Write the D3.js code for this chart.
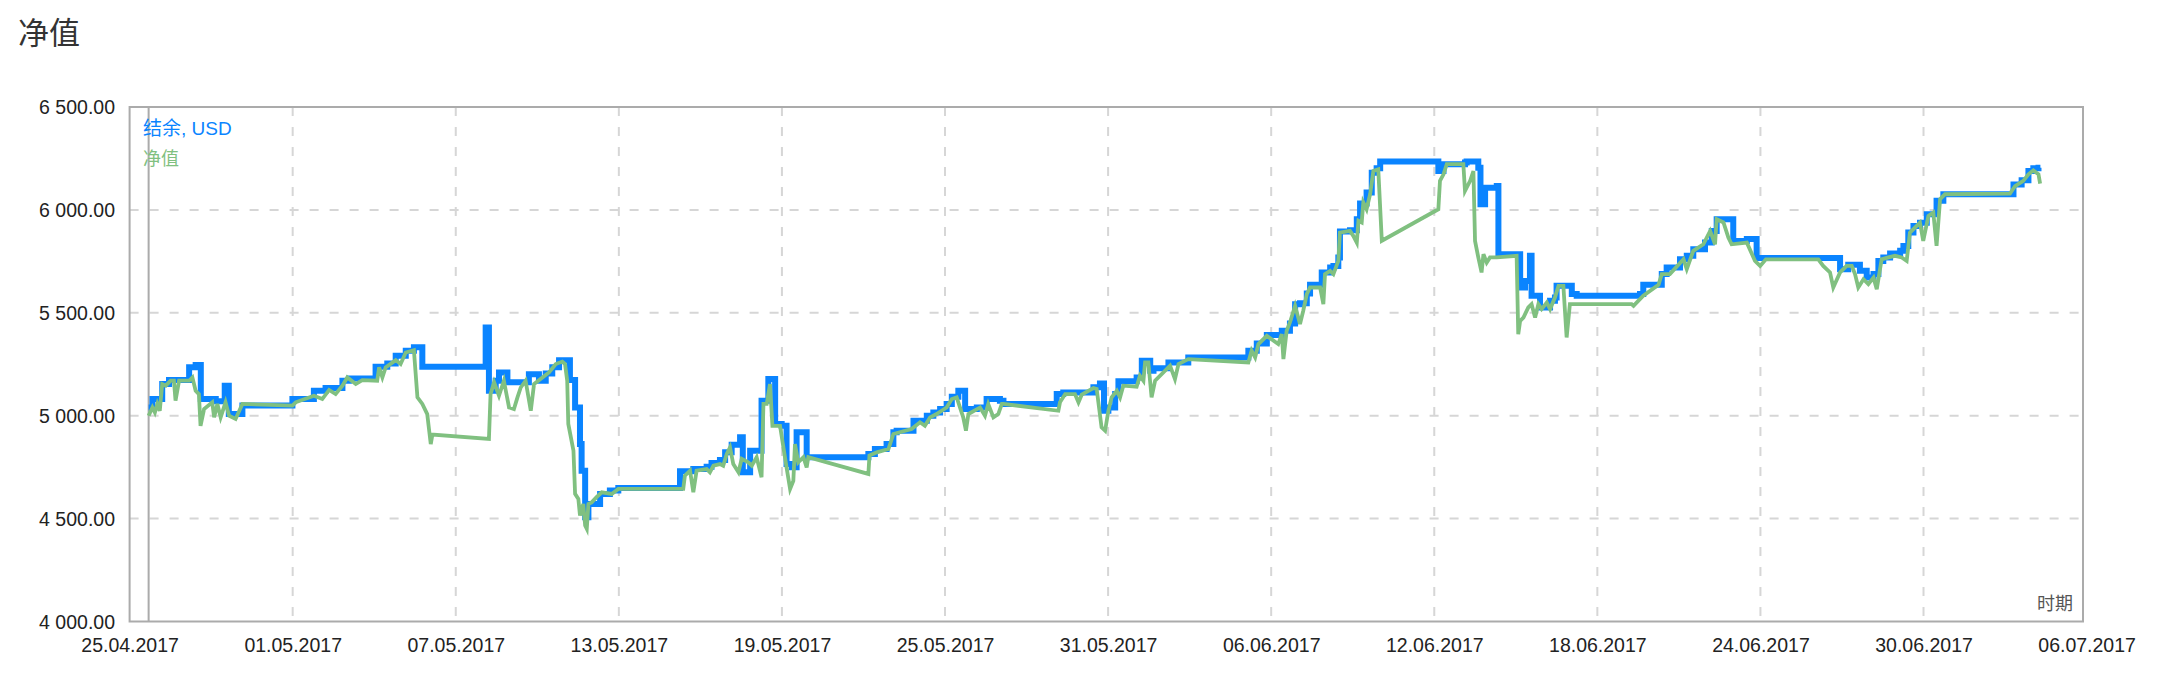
<!DOCTYPE html>
<html>
<head>
<meta charset="utf-8">
<script src="https://cdn.jsdelivr.net/npm/d3@7"></script>
<style>
html,body{margin:0;padding:0;background:#fff;}
svg{display:block;}
</style>
</head>
<body>
<svg id="chart" width="2159" height="687"></svg>
<script>
// ---- data (time = days elapsed since 25.04.2017 00:00) ----
const titleText = "净值";
const seriesNames = ["结余, USD", "净值"];
const axisNameX = "时期";
const xTickLabels = ["25.04.2017","01.05.2017","07.05.2017","13.05.2017","19.05.2017","25.05.2017","31.05.2017","06.06.2017","12.06.2017","18.06.2017","24.06.2017","30.06.2017","06.07.2017"];
const yTickValues = [4000, 4500, 5000, 5500, 6000, 6500];

const balanceDays = [0.70,0.84,1.20,1.45,2.19,2.43,2.62,3.17,3.50,3.65,
4.15,5.99,6.78,7.21,7.83,8.07,9.05,9.48,9.79,10.16,
10.46,10.77,13.10,13.22,13.47,13.59,13.90,14.69,15.06,15.31,
15.55,15.80,16.20,16.39,16.57,16.63,16.76,16.88,17.31,17.67,
17.98,20.25,20.74,21.23,21.41,21.72,21.91,22.15,22.46,22.56,
22.83,23.25,23.50,23.75,23.99,24.17,24.36,24.54,24.91,27.18,
27.42,27.85,28.10,28.22,28.84,29.33,29.57,29.82,30.06,30.25,
30.49,30.74,31.17,31.53,32.02,32.15,34.11,34.35,35.46,35.70,
35.85,36.01,36.26,36.38,37.05,37.24,37.55,37.67,38.22,38.95,
41.16,41.47,41.84,42.39,42.69,42.88,43.06,43.31,43.43,43.86,
44.17,44.29,44.47,44.53,44.90,45.15,45.27,45.51,45.70,45.88,
46.01,48.09,48.15,48.34,49.13,49.19,49.62,49.70,49.87,50.30,
50.36,51.16,51.34,51.52,51.58,51.89,52.26,52.44,52.50,53.06,
53.24,55.57,55.69,56.37,56.55,57.04,57.29,57.53,57.96,58.21,
58.39,59.00,59.50,59.86,62.93,63.23,63.66,63.91,64.16,64.34,
64.52,64.77,65.14,65.26,65.44,65.63,65.87,66.12,66.48,66.73,
69.31,69.61,69.86,70.04,70.23,70.30];
const balanceValues = [5040,5081,5154,5173,5235,5246,5081,5070,5146,5008,
5049,5081,5121,5134,5170,5181,5238,5254,5291,5316,
5332,5238,5429,5121,5170,5210,5162,5202,5170,5205,
5235,5270,5173,5040,4862,4733,4507,4571,4620,4636,
4649,4730,4741,4752,4770,4785,4822,4859,4895,4725,
4830,5073,5178,4960,4951,4765,4749,4919,4798,4814,
4838,4862,4919,4927,4976,5000,5016,5032,5057,5092,
5121,5032,5040,5081,5073,5057,5105,5113,5138,5157,
5024,5040,5105,5167,5186,5267,5218,5230,5259,5283,
5316,5351,5392,5413,5448,5542,5547,5594,5636,5696,
5720,5728,5769,5895,5901,5955,6031,6084,6181,6202,
6235,6235,6189,6222,6230,6235,6205,6027,6108,6116,
5785,5623,5655,5777,5583,5526,5558,5574,5631,5591,
5583,5591,5636,5688,5720,5760,5777,5809,5841,5898,
5955,5849,5858,5766,5712,5733,5704,5671,5688,5752,
5769,5788,5801,5825,5890,5922,5938,5979,6044,6076,
6124,6144,6189,6202,6205,6205];

const equityDays = [0.70,0.84,0.93,1.02,1.11,1.20,1.33,1.51,1.63,1.69,
1.82,2.19,2.31,2.43,2.55,2.61,2.74,3.04,3.11,3.23,
3.35,3.53,3.66,3.90,4.15,5.99,6.11,6.78,7.09,7.34,
7.58,7.83,8.01,8.32,8.56,9.11,9.18,9.30,9.42,9.79,
9.97,10.16,10.46,10.59,10.77,10.95,11.08,11.14,13.22,13.28,
13.41,13.59,13.77,13.96,14.14,14.27,14.39,14.57,14.76,14.88,
15.19,15.43,15.68,15.92,16.02,16.10,16.14,16.33,16.39,16.51,
16.57,16.69,16.76,16.82,16.88,17.00,17.18,17.37,17.74,17.98,
20.37,20.43,20.62,20.74,20.86,21.23,21.35,21.48,21.72,21.84,
21.97,22.09,22.21,22.40,22.52,22.76,22.89,23.07,23.25,23.32,
23.44,23.56,23.65,23.93,24.17,24.30,24.42,24.48,24.60,24.79,
24.91,24.97,27.18,27.22,27.49,27.92,28.10,28.77,29.08,29.26,
29.45,29.69,30.06,30.25,30.43,30.67,30.77,30.86,31.29,31.47,
31.59,31.78,31.96,32.09,32.15,34.17,34.23,34.42,34.78,34.91,
35.03,35.46,35.58,35.76,35.89,36.01,36.13,36.32,36.44,36.56,
37.05,37.17,37.30,37.36,37.48,37.60,37.73,38.28,38.46,38.59,
38.95,41.16,41.28,41.41,41.53,41.84,42.26,42.39,42.45,42.57,
42.69,42.88,43.06,43.18,43.31,43.43,43.80,43.92,43.98,44.17,
44.29,44.47,44.53,44.90,45.02,45.15,45.21,45.33,45.39,45.51,
45.64,45.76,45.94,46.07,48.15,48.21,48.34,48.46,49.07,49.13,
49.32,49.44,49.50,49.62,49.74,49.81,49.93,50.05,50.30,51.03,
51.09,51.16,51.28,51.46,51.58,51.71,51.83,51.95,52.14,52.26,
52.44,52.57,52.75,52.87,52.99,55.26,55.33,55.69,56.25,56.37,
56.67,57.17,57.29,57.53,57.90,58.15,58.33,58.39,58.64,58.82,
58.94,59.50,59.80,59.99,60.20,62.13,62.31,62.56,62.68,62.93,
63.17,63.36,63.48,63.60,63.79,63.97,64.16,64.28,64.46,64.71,
64.95,65.20,65.38,65.50,65.75,65.87,65.99,66.18,66.36,66.48,
66.61,66.79,69.18,69.37,69.67,69.86,70.04,70.23,70.29];
const equityValues = [5000,5040,5016,5057,5024,5154,5146,5170,5170,5073,
5170,5170,5186,5121,5105,4951,5032,5065,4992,5057,
4992,5065,5000,4984,5057,5049,5065,5097,5081,5125,
5105,5146,5186,5154,5173,5170,5235,5186,5235,5270,
5251,5307,5318,5089,5057,5008,4862,4908,4887,5105,
5162,5097,5170,5040,5032,5089,5137,5170,5024,5154,
5186,5210,5251,5263,5251,5170,4960,4830,4620,4596,
4515,4571,4466,4450,4571,4579,4604,4628,4620,4644,
4644,4709,4733,4628,4733,4741,4725,4757,4765,4757,
4814,4846,4765,4725,4790,4773,4757,4798,4701,5057,
5057,5154,4951,4951,4749,4644,4684,4862,4773,4798,
4749,4798,4717,4806,4822,4838,4911,4935,4968,4951,
4992,5008,5040,5081,5089,4992,4927,5008,5040,5000,
5057,4992,5008,5057,5057,5024,5065,5105,5105,5065,
5102,5134,5130,4943,4927,5024,5089,5121,5089,5146,
5141,5194,5170,5259,5259,5089,5170,5243,5178,5251,
5275,5259,5316,5283,5348,5388,5348,5396,5275,5413,
5453,5534,5445,5510,5591,5623,5623,5542,5688,5704,
5688,5752,5890,5898,5874,5841,5947,5939,6036,6003,
6076,6189,6197,5850,6003,6141,6173,6222,6222,6092,
6141,6189,5849,5769,5696,5785,5744,5769,5769,5777,
5396,5461,5477,5526,5542,5477,5542,5518,5550,5518,
5574,5631,5631,5380,5542,5542,5534,5583,5636,5688,
5688,5760,5712,5801,5833,5898,5833,5955,5939,5866,
5833,5841,5752,5728,5760,5760,5728,5696,5623,5696,
5728,5728,5688,5623,5663,5639,5671,5615,5760,5769,
5777,5769,5752,5890,5922,5938,5849,5971,5987,5825,
6052,6076,6079,6116,6141,6173,6192,6173,6128];

// ---- layout ----
const W = 2159, H = 687;
const plotLeft = 129.6, plotRight = 2083, plotTop = 107, plotBottom = 621.5;
const blue = "#0a84ff", green = "#80c080";
const fontLatin = "'Liberation Sans', Arial, 'Noto Sans CJK SC', sans-serif";
const fontCJK = "'Noto Sans CJK SC', 'Liberation Sans', sans-serif";

const parseTick = d3.timeParse("%d.%m.%Y");
const fmtTick = d3.timeFormat("%d.%m.%Y");
const tickDates = xTickLabels.map(parseTick);
const base = tickDates[0];
const dayMs = 864e5;
const toDate = d => new Date(base.getTime() + d * dayMs);

const balance = balanceDays.map((d, i) => ({t: toDate(d), v: balanceValues[i]}));
const equity = equityDays.map((d, i) => ({t: toDate(d), v: equityValues[i]}));

const x = d3.scaleTime().domain([tickDates[0], tickDates[tickDates.length - 1]]).range([plotLeft, 2086.6]);
const y = d3.scaleLinear().domain([yTickValues[0], yTickValues[yTickValues.length - 1]]).range([plotBottom, plotTop]);

const numLocale = d3.formatLocale({decimal: ".", thousands: " ", grouping: [3], currency: ["", ""]});
const fmtNum = numLocale.format(",.2f");

const svg = d3.select("#chart");

// title
svg.append("text").attr("x", 18).attr("y", 44)
  .attr("font-family", fontCJK).attr("font-size", 31).attr("fill", "#333")
  .text(titleText);

// grid
const grid = svg.append("g");
grid.selectAll("line.v").data(tickDates.slice(1, -1)).join("line")
  .attr("x1", d => x(d)).attr("x2", d => x(d))
  .attr("y1", plotTop).attr("y2", plotBottom)
  .attr("stroke", "#d6d6d6").attr("stroke-width", 2).attr("stroke-dasharray", "9,11");
grid.selectAll("line.h").data(yTickValues.slice(1, -1)).join("line")
  .attr("x1", plotLeft).attr("x2", plotRight)
  .attr("y1", d => y(d)).attr("y2", d => y(d))
  .attr("stroke", "#d6d6d6").attr("stroke-width", 2).attr("stroke-dasharray", "9,11");

// clip
svg.append("clipPath").attr("id", "clip").append("rect")
  .attr("x", plotLeft).attr("y", plotTop).attr("width", plotRight - plotLeft).attr("height", plotBottom - plotTop);

const plot = svg.append("g").attr("clip-path", "url(#clip)");

// start marker line at first data point
plot.append("line")
  .attr("x1", x(balance[0].t)).attr("x2", x(balance[0].t))
  .attr("y1", plotTop).attr("y2", plotBottom)
  .attr("stroke", "#ababab").attr("stroke-width", 2);

const balLine = d3.line().x(d => x(d.t)).y(d => y(d.v)).curve(d3.curveStepAfter);
const eqLine = d3.line().x(d => x(d.t)).y(d => y(d.v));

plot.append("path").datum(balance).attr("d", balLine)
  .attr("fill", "none").attr("stroke", blue).attr("stroke-width", 6).attr("stroke-linejoin", "miter");
plot.append("path").datum(equity).attr("d", eqLine)
  .attr("fill", "none").attr("stroke", green).attr("stroke-width", 3.8).attr("stroke-linejoin", "miter");

// border
svg.append("rect").attr("x", plotLeft).attr("y", plotTop)
  .attr("width", plotRight - plotLeft).attr("height", plotBottom - plotTop)
  .attr("fill", "none").attr("stroke", "#ababab").attr("stroke-width", 2);

// axes
const xAxis = d3.axisBottom(x).tickValues(tickDates).tickFormat(fmtTick).tickSize(0).tickPadding(0);
const gx = svg.append("g").attr("transform", `translate(0,${plotBottom})`).call(xAxis);
gx.select(".domain").remove();
gx.selectAll("text").attr("dy", "0").attr("y", 30)
  .attr("font-family", fontLatin).attr("font-size", 19.5).attr("fill", "#222");

const yAxis = d3.axisLeft(y).tickValues(yTickValues).tickFormat(fmtNum).tickSize(0).tickPadding(0);
const gy = svg.append("g").attr("transform", `translate(115,0)`).call(yAxis);
gy.select(".domain").remove();
gy.selectAll("text").attr("dy", "0.35em")
  .attr("font-family", fontLatin).attr("font-size", 19.5).attr("fill", "#222");

// legend
svg.append("text").attr("x", 143).attr("y", 135)
  .attr("font-family", fontLatin).attr("font-size", 19).attr("fill", blue)
  .text(seriesNames[0]);
svg.append("text").attr("x", 143).attr("y", 165)
  .attr("font-family", fontCJK).attr("font-size", 18).attr("fill", green)
  .text(seriesNames[1]);

// x axis name
svg.append("text").attr("x", 2073).attr("y", 610).attr("text-anchor", "end")
  .attr("font-family", fontCJK).attr("font-size", 18).attr("fill", "#555")
  .text(axisNameX);
</script>
</body>
</html>
